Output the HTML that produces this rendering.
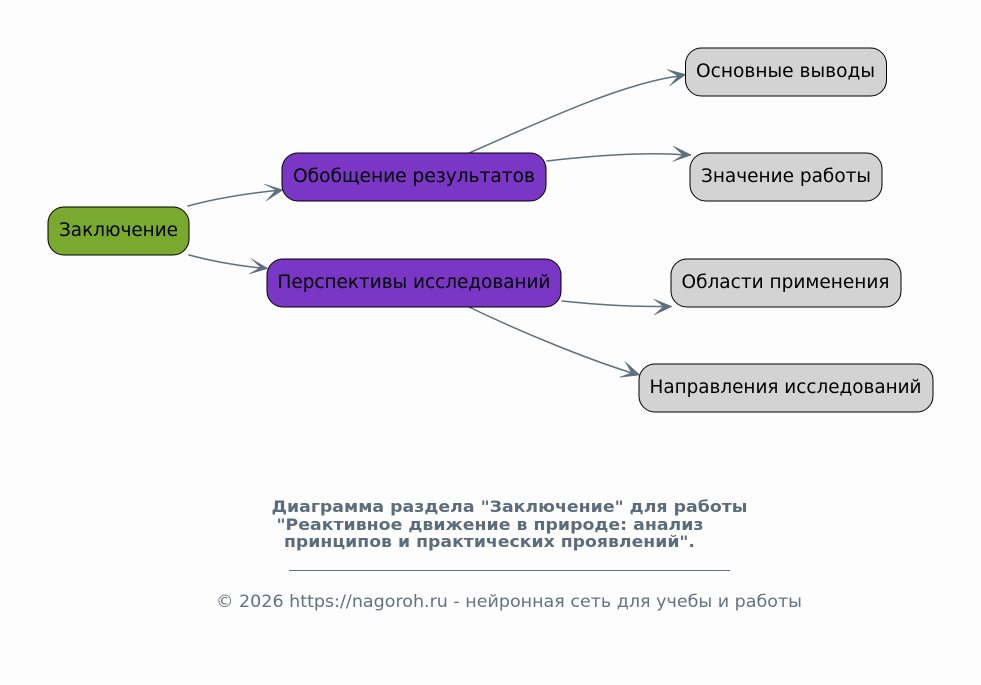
<!DOCTYPE html>
<html>
<head>
<meta charset="utf-8">
<style>
html,body{margin:0;padding:0;background:#fdfdfd;}
svg{display:block;}
text{font-family:"DejaVu Sans","Liberation Sans",sans-serif;}
.n{font-size:18.7px;fill:#000;}
.t{font-size:16px;font-weight:bold;fill:#5c6c7c;}
.f{font-size:16.6px;fill:#627282;}
.e{fill:none;stroke:#5f6f7e;stroke-width:1.5;stroke-linecap:round;}
.a{fill:#5f6f7e;stroke:#5f6f7e;stroke-width:.5;stroke-linejoin:round;}
</style>
</head>
<body>
<svg width="981" height="685" viewBox="0 0 981 685" xmlns="http://www.w3.org/2000/svg">
<rect width="981" height="685" fill="#fdfdfd"/>

<path class="e" d="M188 206 Q224 196 276 190.500"/>
<polygon class="a" points="264,184 276,190 266,201 283,190"/>
<path class="e" d="M189 255 Q222 264 261 268"/>
<polygon class="a" points="251,258.500 260.500,267.500 249,274 268,268.500"/>
<path class="e" d="M469 153 C540 122 620 84 679 76"/>
<polygon class="a" points="667,69.500 678,76 669.500,86 686,74.500"/>
<path class="e" d="M547 161 C600 155 650 152 684 155"/>
<polygon class="a" points="673,146 683,155 672.500,161.500 691.500,155"/>
<path class="e" d="M562 301 Q620 307 664 306.500"/>
<polygon class="a" points="653.500,299 663.500,306.500 654,315 672,306.500"/>
<path class="e" d="M469 307 C525 334 590 360 632 373"/>
<polygon class="a" points="625,361.500 631.500,372.700 619.500,377.300 640,375"/>

<rect x="48" y="207" width="141" height="48" rx="16" ry="16" fill="#79a92e" stroke="#000" stroke-width="1"/>
<rect x="282" y="153" width="264" height="48" rx="16" ry="16" fill="#7a36c4" stroke="#000" stroke-width="1"/>
<rect x="267" y="259" width="294" height="48" rx="16" ry="16" fill="#7a36c4" stroke="#000" stroke-width="1"/>
<rect x="685.500" y="48" width="201" height="48" rx="16" ry="16" fill="#d3d3d3" stroke="#000" stroke-width="1"/>
<rect x="690" y="153" width="192" height="48" rx="16" ry="16" fill="#d3d3d3" stroke="#000" stroke-width="1"/>
<rect x="671" y="259" width="230" height="48" rx="16" ry="16" fill="#d3d3d3" stroke="#000" stroke-width="1"/>
<rect x="639" y="364" width="294" height="48" rx="16" ry="16" fill="#d3d3d3" stroke="#000" stroke-width="1"/>

<text class="n" x="59" y="236" textLength="119" lengthAdjust="spacingAndGlyphs">Заключение</text>
<text class="n" x="293" y="182" textLength="242" lengthAdjust="spacingAndGlyphs">Обобщение результатов</text>
<text class="n" x="277.500" y="288" textLength="273" lengthAdjust="spacingAndGlyphs">Перспективы исследований</text>
<text class="n" x="696" y="77" textLength="179" lengthAdjust="spacingAndGlyphs">Основные выводы</text>
<text class="n" x="701" y="182" textLength="170" lengthAdjust="spacingAndGlyphs">Значение работы</text>
<text class="n" x="681.500" y="288" textLength="208" lengthAdjust="spacingAndGlyphs">Области применения</text>
<text class="n" x="649.500" y="393" textLength="272" lengthAdjust="spacingAndGlyphs">Направления исследований</text>

<text class="t" x="271.500" y="512" textLength="476" lengthAdjust="spacingAndGlyphs">Диаграмма раздела "Заключение" для работы</text>
<text class="t" x="276.500" y="530" textLength="427" lengthAdjust="spacingAndGlyphs">"Реактивное движение в природе: анализ</text>
<text class="t" x="284" y="547" textLength="411" lengthAdjust="spacingAndGlyphs">принципов и практических проявлений".</text>
<line x1="289" y1="570.500" x2="730" y2="570.500" stroke="#627282" stroke-width="1"/>
<text class="f" x="216" y="607" textLength="586" lengthAdjust="spacingAndGlyphs">© 2026 https://nagoroh.ru - нейронная сеть для учебы и работы</text>
</svg>
</body>
</html>
